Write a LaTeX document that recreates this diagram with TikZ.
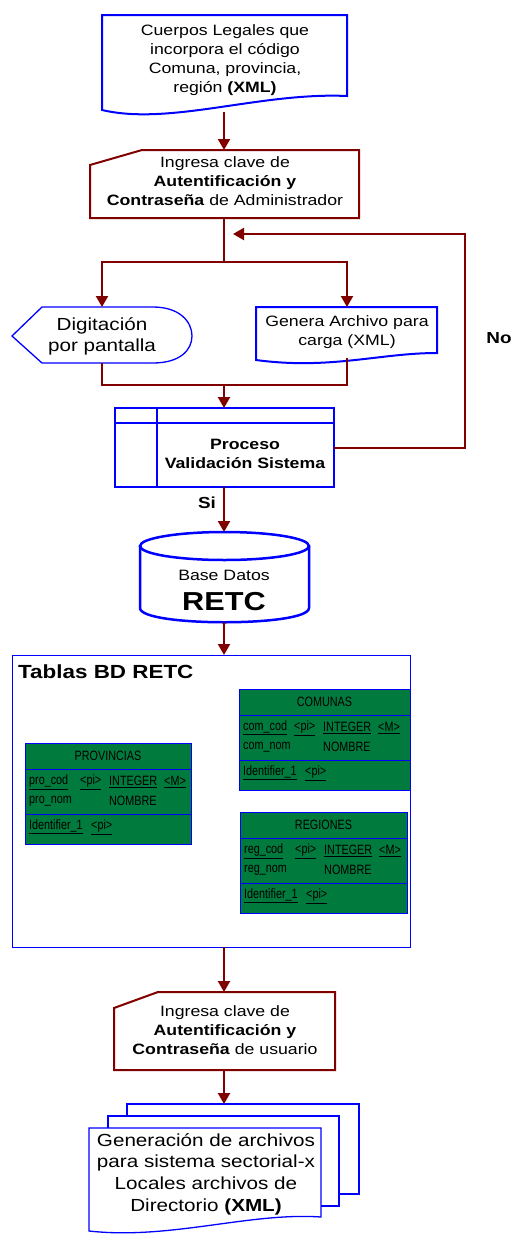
\documentclass[tikz,border=0pt]{standalone}
\usepackage{fontspec}
\setmainfont{Liberation Sans}[FakeStretch=1.18]
\newfontfamily\tablafont{Liberation Sans}[FakeStretch=0.8]
\usetikzlibrary{arrows.meta}
\definecolor{rojoosc}{RGB}{128,0,0}
\definecolor{azul}{RGB}{0,0,255}
\definecolor{verdetab}{RGB}{0,122,61}
\begin{document}
\begin{tikzpicture}[x=1pt,y=-1pt,
	linea/.style={rojoosc, line width=2.2pt},
	flujo/.style={linea, -{Triangle[length=11pt,width=12pt]}},
	borde/.style={azul, line width=2pt, fill=white},
	entrada/.style={rojoosc, line width=2pt, fill=white},
	txt/.style={font=\fontsize{15}{19}\selectfont, align=center, inner sep=0pt},
	celda/.style={font=\tablafont\fontsize{13.5}{15}\selectfont, anchor=west, inner sep=0pt}]
	\useasboundingbox (0,0) rectangle (513,1234);
	% documento de entrada
	\draw[borde] (102,15) -- (347,15) -- (347,96) .. controls (260,92) and (170,126) .. (102,110) -- cycle;
	\node[txt] (cuerpos) at (225,60) {Cuerpos Legales que\\incorpora el código\\Comuna, provincia,\\región \textbf{(XML)}};
	\coordinate (cuerposS) at (224,112);
	% clave administrador
	\draw[entrada] (90,165) -- (142,150) -- (359,150) -- (359,218) -- (90,218) -- cycle;
	\node[txt] (admin) at (225,181) {Ingresa clave de\\\textbf{Autentificación y}\\\textbf{Contraseña} de Administrador};
	\coordinate (adminN) at (224,150);
	\coordinate (adminS) at (224,218);
	\coordinate (split) at (224,262);
	% pantalla
	\draw[borde, line width=1.3pt] (12,336) -- (42,307) -- (153,307) .. controls (180,307) and (192,322) .. (192,336)
		.. controls (192,350) and (180,363) .. (153,363) -- (42,363) -- cycle;
	\node[txt, font=\fontsize{17.5}{21}\selectfont] (pantalla) at (102,336) {Digitación\\por pantalla};
	\coordinate (pantallaN) at (102,307);
	\coordinate (pantallaS) at (102,363);
	% archivo para carga
	\draw[borde] (256,307) -- (437,307) -- (437,353) .. controls (380,353) and (330,370) .. (256,360) -- cycle;
	\node[txt] (genera) at (347,332) {Genera Archivo para\\carga (XML)};
	\coordinate (generaN) at (347,307);
	\coordinate (generaS) at (347,358);
	\coordinate (merge) at (224,385);
	% proceso
	\draw[borde] (115,408) rectangle (334,487);
	\draw[azul, line width=2pt] (115,423) -- (334,423) (157,408) -- (157,487);
	\node[txt, font=\bfseries\fontsize{15}{19}\selectfont] (proceso) at (245,454) {Proceso\\Validación Sistema};
	\coordinate (procesoN) at (224,408);
	\coordinate (procesoS) at (224,487);
	\coordinate (procesoE) at (334,448);
	\coordinate (loop) at (465,234);
	\coordinate (vuelta) at (233,234);
	\node[txt, font=\bfseries\fontsize{16}{19}\selectfont] (no) at (499,338) {No};
	\node[txt, font=\bfseries\fontsize{16}{19}\selectfont] (si) at (207,503) {Si};
	% base de datos
	\draw[borde, line width=2.5pt] (140,546) -- (140,608) .. controls (140,627) and (309,627) .. (309,608) -- (309,546);
	\draw[azul, line width=2.5pt] (224.5,546) ellipse [x radius=84.5, y radius=14];
	\node[txt] (base) at (224,575) {Base Datos};
	\node[txt, font=\bfseries\fontsize{26}{28}\selectfont] (retc) at (224,602) {RETC};
	\coordinate (baseN) at (224,532);
	\coordinate (baseS) at (224,622);
	% tablas
	\draw[azul, line width=1pt] (12,655) rectangle (410,947);
	\coordinate (marcoN) at (224,655);
	\coordinate (marcoS) at (224,947);
	\node[txt, anchor=west, font=\bfseries\fontsize{19}{22}\selectfont] (titulo) at (18,672) {Tablas BD RETC};
	\foreach \x/\y/\w/\nom/\pre in {25/743/166/PROVINCIAS/pro, 239/689/171/COMUNAS/com, 240/812/167/REGIONES/reg}{
		\draw[azul, fill=verdetab, line width=1pt] (\x,\y) rectangle (\x+\w,\y+101);
		\draw[azul, line width=1pt] (\x,\y+26) -- (\x+\w,\y+26) (\x,\y+71) -- (\x+\w,\y+71);
		\node[celda, anchor=center] (\pre) at (\x+\w/2,\y+13) {\nom};
		\node[celda] (\pre cod) at (\x+4,\y+39) {\underline{\pre\_cod}};
		\node[celda] at (\x+55,\y+39) {\underline{<pi>}};
		\node[celda] at (\x+84,\y+39) {\underline{INTEGER}};
		\node[celda] at (\x+139,\y+39) {\underline{<M>}};
		\node[celda] (\pre nom) at (\x+4,\y+58) {\pre\_nom};
		\node[celda] at (\x+84,\y+58) {NOMBRE};
		\node[celda] (\pre id) at (\x+4,\y+84) {\underline{Identifier\_1}};
		\node[celda] at (\x+66,\y+84) {\underline{<pi>}};
	}
	% clave usuario
	\draw[entrada] (114,1008) -- (158,992) -- (335,992) -- (335,1070) -- (114,1070) -- cycle;
	\node[txt] (usuario) at (225,1030) {Ingresa clave de\\\textbf{Autentificación y}\\\textbf{Contraseña} de usuario};
	\coordinate (usuarioN) at (224,992);
	\coordinate (usuarioS) at (224,1070);
	% multidocumento
	\draw[azul, line width=1.3pt, fill=white] (127,1104) rectangle (359,1194);
	\draw[azul, line width=1.3pt, fill=white] (108,1116) rectangle (339,1206);
	\draw[azul, line width=1.3pt, fill=white] (89,1128) -- (321,1128) -- (321,1217) .. controls (250,1212) and (170,1240) .. (89,1231) -- cycle;
	\node[txt, font=\fontsize{17.5}{21.7}\selectfont] (generacion) at (206,1174) {Generación de archivos\\para sistema sectorial-x\\Locales archivos de\\Directorio \textbf{(XML)}};
	\coordinate (multiN) at (224,1104);
	% conectores
	\draw[flujo] (cuerposS) -- (adminN);
	\draw[linea] (adminS) -- (split);
	\draw[flujo] (split) -| (pantallaN);
	\draw[flujo] (split) -| (generaN);
	\draw[linea] (pantallaS) |- (merge);
	\draw[linea] (generaS) |- (merge);
	\draw[flujo] (merge) -- (procesoN);
	\draw[flujo] (procesoE) -| (loop) -- (vuelta);
	\draw[flujo] (procesoS) -- (baseN);
	\draw[flujo] (baseS) -- (marcoN);
	\draw[flujo] (marcoS) -- (usuarioN);
	\draw[flujo] (usuarioS) -- (multiN);
\end{tikzpicture}
\end{document}
